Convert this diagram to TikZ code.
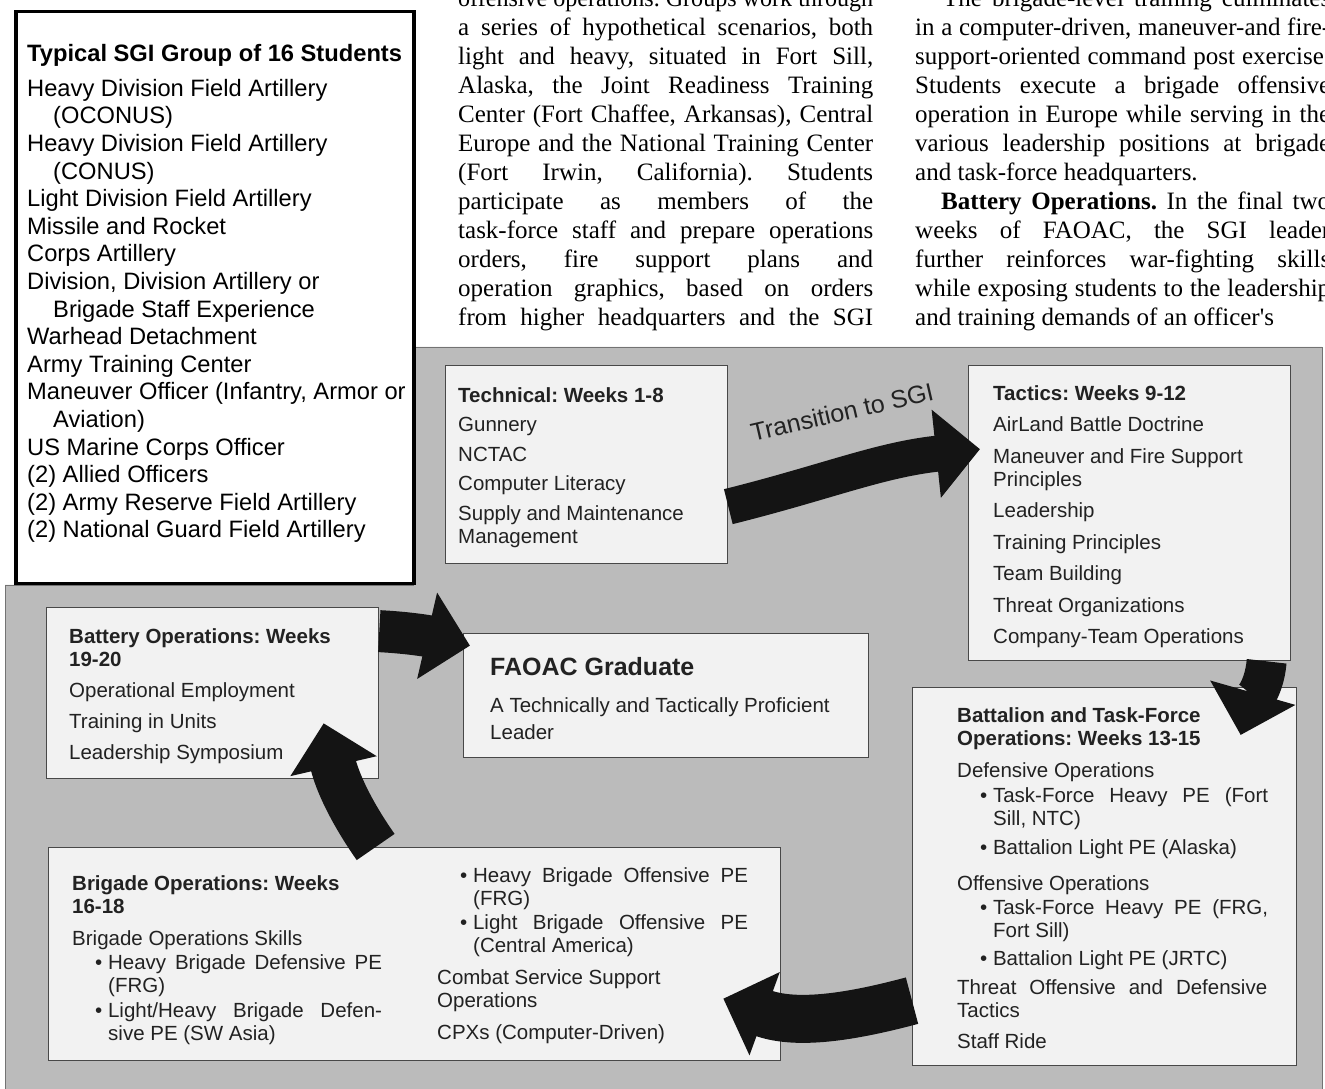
\documentclass[tikz,border=0pt]{standalone}
\usepackage{fontspec}
\setmainfont{Liberation Serif}
\setsansfont{Liberation Sans}
\usepackage{tikz}
\usetikzlibrary{arrows.meta,calc,positioning}
\definecolor{panel}{HTML}{BBBBBB}
\definecolor{card}{HTML}{F2F2F2}
\definecolor{cardline}{HTML}{484848}
\definecolor{ink}{HTML}{222222}
\definecolor{arrowink}{HTML}{141414}
\newcommand{\jline}[1]{\makebox[415pt][s]{#1}}
\newcommand{\bulitem}[2]{\hspace*{23pt}\textbullet\ \makebox[#1][s]{#2}}
\newcommand{\bulplain}[1]{\hspace*{23pt}\textbullet\ #1}
\newcommand{\contline}[1]{\hspace*{36pt}#1}
\frenchspacing

\begin{document}
\begin{tikzpicture}[x=1pt,y=1pt,
  card/.style={draw=cardline,line width=1.3pt,fill=card,inner sep=0pt,anchor=north west},
  cardtext/.style={anchor=north west,inner sep=0pt,align=left,text=ink,font=\sffamily\fontsize{20.5}{23}\selectfont},
  column/.style={anchor=north west,inner sep=0pt,align=left,font=\fontsize{25}{29}\selectfont},
  flow/.style={line width=#1,draw=arrowink,-{Triangle[width=86pt,length=44pt]}}]
  \useasboundingbox (0,0) rectangle (1325,1088);

  \filldraw[fill=panel,draw=black!55,line width=0.8pt]
    (413,741) -- (1322,741) -- (1322,-8) -- (5,-8) -- (5,503) -- (413,503) -- cycle;

  \node[column] (colmid) at (458,1099.3) {%
    \resizebox{415pt}{\height}{offensive operations. Groups work through}\\
    \jline{a series of hypothetical scenarios, both}\\
    \jline{light and heavy, situated in Fort Sill,}\\
    \jline{Alaska, the Joint Readiness Training}\\
    \jline{Center (Fort Chaffee, Arkansas), Central}\\
    \jline{Europe and the National Training Center}\\
    \jline{(Fort Irwin, California). Students}\\
    \jline{participate as members of the}\\
    \jline{task-force staff and prepare operations}\\
    \jline{orders, fire support plans and}\\
    \jline{operation graphics, based on orders}\\
    \jline{from higher headquarters and the SGI}};
  \node[column] (colright) at (915,1099.3) {%
    \jline{\hspace*{28pt}The brigade-level training culminates}\\
    \jline{in a computer-driven, maneuver-and fire-}\\
    \jline{support-oriented command post exercise.}\\
    \jline{Students execute a brigade offensive}\\
    \jline{operation in Europe while serving in the}\\
    \jline{various leadership positions at brigade}\\
    and task-force headquarters.\\
    \jline{\hspace*{26pt}\textbf{Battery Operations.} In the final two}\\
    \jline{weeks of FAOAC, the SGI leader}\\
    \jline{further reinforces war-fighting skills}\\
    \jline{while exposing students to the leadership}\\
    and training demands of an officer\textquotesingle s};

  \node[draw=black,line width=3.5pt,fill=white,inner sep=0pt,anchor=north west,
    minimum width=398pt,minimum height=572pt] (side) at (14,1078) {};
  \node[anchor=north west,inner sep=0pt,align=left,font=\sffamily\fontsize{23.7}{27.6}\selectfont]
    (side-t) at ([shift={(13pt,-34pt)}]side.north west) {%
    \textbf{Typical SGI Group of 16 Students}\\[7.4pt]
    Heavy Division Field Artillery\\
    \hspace*{26pt}(OCONUS)\\
    Heavy Division Field Artillery\\
    \hspace*{26pt}(CONUS)\\
    Light Division Field Artillery\\
    Missile and Rocket\\
    Corps Artillery\\
    Division, Division Artillery or\\
    \hspace*{26pt}Brigade Staff Experience\\
    Warhead Detachment\\
    Army Training Center\\
    Maneuver Officer (Infantry, Armor or\\
    \hspace*{26pt}Aviation)\\
    US Marine Corps Officer\\
    (2) Allied Officers\\
    (2) Army Reserve Field Artillery\\
    (2) National Guard Field Artillery};

  \node[card,minimum width=282pt,minimum height=198pt] (tech) at (445,723) {};
  \node[cardtext] (tech-t) at ([shift={(13pt,-22pt)}]tech.north west) {%
    \textbf{Technical: Weeks 1-8}\\[6.5pt]
    Gunnery\\[6.5pt]
    NCTAC\\[6.5pt]
    Computer Literacy\\[6.5pt]
    Supply and Maintenance\\
    Management};

  \node[card,minimum width=322pt,minimum height=295pt] (tact) at (968,723) {};
  \node[cardtext] (tact-t) at ([shift={(25pt,-20pt)}]tact.north west) {%
    \textbf{Tactics: Weeks 9-12}\\[8.5pt]
    AirLand Battle Doctrine\\[8.5pt]
    Maneuver and Fire Support\\
    Principles\\[8.5pt]
    Leadership\\[8.5pt]
    Training Principles\\[8.5pt]
    Team Building\\[8.5pt]
    Threat Organizations\\[8.5pt]
    Company-Team Operations};

  \node[card,minimum width=332pt,minimum height=171pt] (batt) at (46,481) {};
  \node[cardtext] (batt-t) at ([shift={(23pt,-21pt)}]batt.north west) {%
    \textbf{Battery Operations: Weeks}\\
    \textbf{19-20}\\[8pt]
    Operational Employment\\[8pt]
    Training in Units\\[8pt]
    Leadership Symposium};

  \node[card,minimum width=405pt,minimum height=124pt] (grad) at (463,455) {};
  \node[cardtext] (grad-t) at ([shift={(27pt,-24pt)}]grad.north west) {%
    {\fontsize{25}{28}\selectfont\bfseries FAOAC Graduate}\\[14pt]
    A Technically and Tactically Proficient\\[4pt]
    Leader};

  \node[card,minimum width=384pt,minimum height=378pt] (batl) at (912,401) {};
  \node[cardtext] (batl-t) at ([shift={(45pt,-20pt)}]batl.north west) {%
    \textbf{Battalion and Task-Force}\\
    \textbf{Operations: Weeks 13-15}\\[9pt]
    Defensive Operations\\[2pt]
    \bulitem{275pt}{Task-Force Heavy PE (Fort}\\
    \contline{Sill, NTC)}\\[6pt]
    \bulplain{Battalion Light PE (Alaska)}\\[13pt]
    Offensive Operations\\[1pt]
    \bulitem{275pt}{Task-Force Heavy PE (FRG,}\\
    \contline{Fort Sill)}\\[5pt]
    \bulplain{Battalion Light PE (JRTC)}\\[6pt]
    \makebox[310pt][s]{Threat Offensive and Defensive}\\
    Tactics\\[8pt]
    Staff Ride};

  \node[card,minimum width=732pt,minimum height=213pt] (brig) at (48,241) {};
  \node[cardtext] (brig-l) at ([shift={(24pt,-28pt)}]brig.north west) {%
    \textbf{Brigade Operations: Weeks}\\
    \textbf{16-18}\\[9pt]
    Brigade Operations Skills\\[1pt]
    \bulitem{274pt}{Heavy Brigade Defensive PE}\\
    \contline{(FRG)}\\[2pt]
    \bulitem{274pt}{Light/Heavy Brigade Defen-}\\
    \contline{sive PE (SW Asia)}};
  \node[cardtext] (brig-r) at ([shift={(389pt,-20pt)}]brig.north west) {%
    \bulitem{275pt}{Heavy Brigade Offensive PE}\\
    \contline{(FRG)}\\[1pt]
    \bulitem{275pt}{Light Brigade Offensive PE}\\
    \contline{(Central America)}\\[9pt]
    Combat Service Support\\
    Operations\\[9pt]
    CPXs (Computer-Driven)};

  \draw[flow=36pt] ([yshift=-42pt]tech.east) to[out=14,in=186] ([shift={(12pt,64pt)}]tact.west);
  \node[rotate=13,text=ink,font=\sffamily\fontsize{25}{28}\selectfont] (trans) at (842,676) {Transition to SGI};
  \draw[flow=40pt] ([xshift=137pt]tact.south) to[out=-95,in=74] ([shift={(136pt,-48pt)}]batl.north);
  \draw[flow=48pt] ([yshift=-124pt]batl.west) to[out=195,in=-20] ([shift={(-58pt,-44.5pt)}]brig.east);
  \draw[flow=46pt] ([xshift=-39pt]brig.north) to[out=125,in=-77] ([shift={(111pt,56pt)}]batt.south);
  \draw[flow=42pt] ([yshift=62pt]batt.east) to[out=-3,in=167] ([shift={(7pt,50pt)}]grad.west);
\end{tikzpicture}
\end{document}
